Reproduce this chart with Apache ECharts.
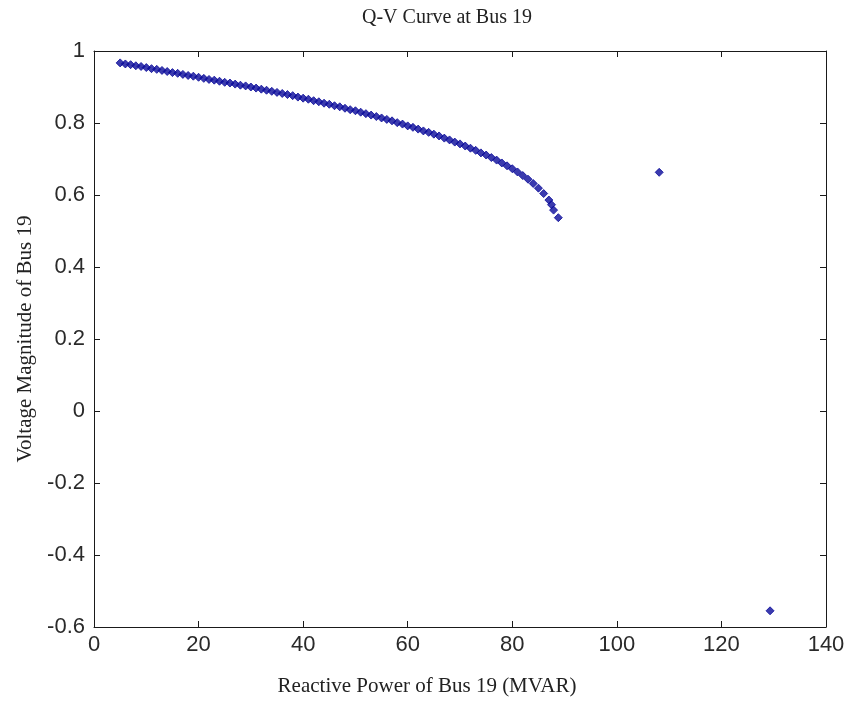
<!DOCTYPE html>
<html>
<head>
<meta charset="utf-8">
<script src="https://cdn.jsdelivr.net/npm/echarts@6/dist/echarts.min.js"></script>
<style>
html,body{margin:0;padding:0;background:#fff;}
#chart{width:849px;height:702px;}
</style>
</head>
<body>
<div id="chart"></div>
<script>
// Reactive power (MVAR) of Bus 19
const qValues = [5,6,7,8,9,10,11,12,13,14,15,16,17,18,19,20,21,22,23,24,25,26,27,28,29,30,
  31,32,33,34,35,36,37,38,39,40,41,42,43,44,45,46,47,48,49,50,51,52,53,54,55,56,57,58,59,60,
  61,62,63,64,65,66,67,68,69,70,71,72,73,74,75,76,77,78,79,80,81,82,83,84,85,86,87,87.5,87.9,88.8,
  108.1,129.3];
// Voltage magnitude of Bus 19
const vValues = [0.967,0.964,0.962,0.959,0.957,0.954,0.951,0.949,0.946,0.943,0.940,0.938,0.935,0.932,0.930,0.927,
  0.924,0.921,0.919,0.916,0.913,0.911,0.908,0.905,0.903,0.900,
  0.897,0.894,0.891,0.888,0.885,0.882,0.879,0.876,0.872,0.869,0.866,0.862,0.859,0.855,0.852,0.848,0.845,0.841,0.837,0.834,
  0.830,0.826,0.822,0.818,0.814,0.810,0.806,0.801,0.797,0.792,
  0.788,0.783,0.778,0.774,0.769,0.764,0.758,0.753,0.747,0.742,0.736,0.730,0.724,0.717,0.711,0.704,0.697,0.689,0.681,0.673,
  0.664,0.654,0.644,0.632,0.619,0.604,0.586,0.573,0.558,0.537,
  0.663,-0.555];
const xTicks = {min: 0, max: 140, step: 20};
const yTicks = {min: -0.6, max: 1, step: 0.2};
const titleText = 'Q-V Curve at Bus 19';
const xLabel = 'Reactive Power of Bus 19 (MVAR)';
const yLabel = 'Voltage Magnitude of Bus 19';

const points = qValues.map((q, i) => [q, vValues[i]]);
const chart = echarts.init(document.getElementById('chart'), null, {renderer: 'canvas'});
const serif = '"Liberation Serif", "Times New Roman", serif';
const sans = '"Liberation Sans", Arial, sans-serif';
const lineStyle = {color: '#1a1a1a', width: 1};
const tick = {show: true, inside: true, length: 6, lineStyle: lineStyle};
const fmt = v => String(+(+v).toFixed(1));
chart.setOption({
  backgroundColor: '#ffffff',
  animation: false,
  title: {
    text: titleText, left: 442, textAlign: 'center', top: 3,
    textStyle: {fontFamily: serif, fontWeight: 'normal', fontSize: 20, color: '#222'}
  },
  grid: {left: 94, right: 23, top: 51, bottom: 73, containLabel: false},
  xAxis: [{
    type: 'value', min: xTicks.min, max: xTicks.max, interval: xTicks.step, position: 'bottom',
    axisLine: {show: true, onZero: false, lineStyle: lineStyle},
    axisTick: tick, splitLine: {show: false},
    axisLabel: {fontFamily: sans, fontSize: 22, color: '#2a2a2a', margin: 7, formatter: fmt},
    name: xLabel, nameLocation: 'middle', nameGap: 49,
    nameTextStyle: {fontFamily: serif, fontSize: 21, color: '#222', padding: [0, 66, 0, 0]}
  }, {
    type: 'value', min: xTicks.min, max: xTicks.max, interval: xTicks.step, position: 'top',
    axisLine: {show: true, onZero: false, lineStyle: lineStyle},
    axisTick: tick, splitLine: {show: false}, axisLabel: {show: false}
  }],
  yAxis: [{
    type: 'value', min: yTicks.min, max: yTicks.max, interval: yTicks.step, position: 'left',
    axisLine: {show: true, onZero: false, lineStyle: lineStyle},
    axisTick: tick, splitLine: {show: false},
    axisLabel: {fontFamily: sans, fontSize: 22, color: '#2a2a2a', margin: 9, formatter: fmt},
    name: yLabel, nameLocation: 'middle', nameGap: 53,
    nameTextStyle: {fontFamily: serif, fontSize: 21, color: '#222'}
  }, {
    type: 'value', min: yTicks.min, max: yTicks.max, interval: yTicks.step, position: 'right',
    axisLine: {show: true, onZero: false, lineStyle: lineStyle},
    axisTick: tick, splitLine: {show: false}, axisLabel: {show: false}
  }],
  series: [{
    type: 'scatter', xAxisIndex: 0, yAxisIndex: 0,
    data: points, symbol: 'diamond', symbolSize: 8,
    itemStyle: {color: '#0a0a9a', borderColor: '#0a0a9a', borderWidth: 1}
  }]
});
</script>
</body>
</html>
